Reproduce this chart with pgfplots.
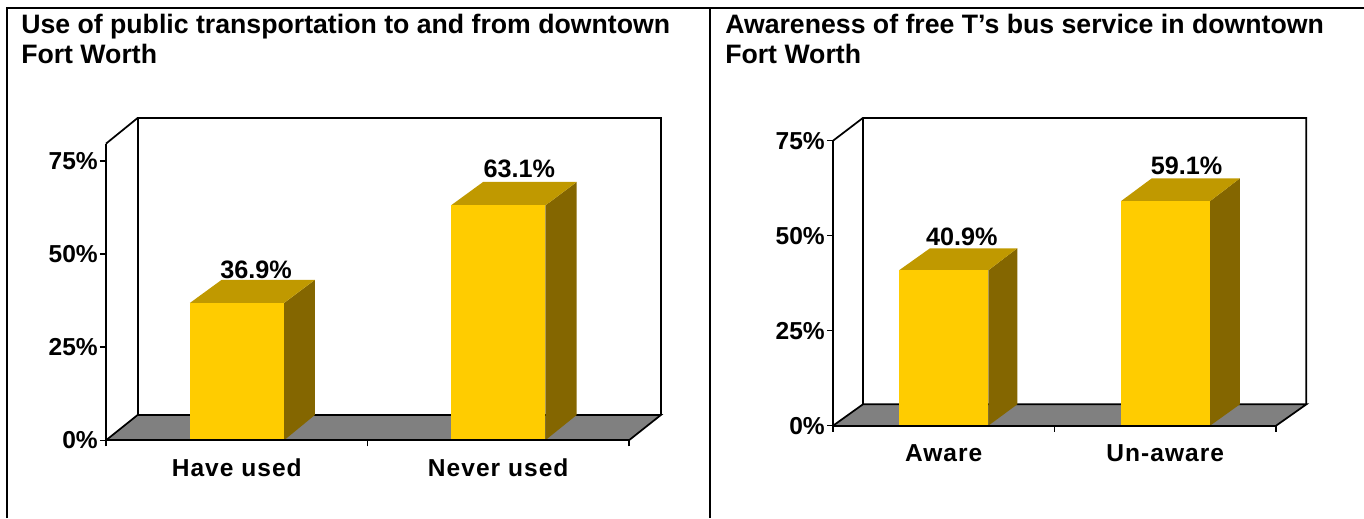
\documentclass[border=0pt]{standalone}
\usepackage{fontspec}
\setmainfont{Liberation Sans}
\newfontfamily\spaced{Liberation Sans}[LetterSpace=4.2]
\usepackage{pgfplots}
\pgfplotsset{compat=1.18}

% colours of the 3D bars
\definecolor{barfront}{HTML}{FFCC00}
\definecolor{bartop}{HTML}{C09900}
\definecolor{barside}{HTML}{846600}
\definecolor{floorgray}{HTML}{808080}

% 1px of the reference = 0.75pt
\newcommand{\ttl}{\bfseries\fontsize{20}{24}\selectfont}
\newcommand{\lbl}{\bfseries\fontsize{18.4}{22}\selectfont}
\newcommand{\vallbl}{\bfseries\fontsize{18.9}{22}\selectfont}

\pgfplotsset{
  panel/.style={
    scale only axis, anchor=south west, clip=false, axis on top,
    axis x line*=bottom, axis y line*=left,
    axis line style={line width=1.3pt, black},
    xmin=0, xmax=2, ymin=0,
    tick align=outside, major tick length=4.5pt,
    tick style={black, line width=1.1pt},
    xtick={0,1,2}, xticklabels={},
    extra x ticks={0.5,1.5},
    extra x tick style={
      major tick length=0pt,
      tick label style={font=\spaced\lbl, anchor=base, yshift=-27pt},
    },
    ytick={0,25,50,75}, yticklabels={0\%,25\%,50\%,75\%},
    y tick label style={font=\lbl, inner sep=0pt, xshift=-1.5pt},
  },
  wall/.style={black, line width=1.3pt},
  valuelabel/.style={
    draw=none, point meta=explicit,
    nodes near coords={\pgfmathprintnumber[fixed, precision=1, fixed zerofill, assume math mode=true]{\pgfplotspointmeta}\%},
    nodes near coords align={anchor=base},
    every node near coord/.append style={font=\vallbl, inner sep=0pt, yshift=0pt},
  },
}

\begin{document}
\begin{tikzpicture}[x=0.75pt, y=0.75pt]
\path[use as bounding box] (0,0) rectangle (1364,518);

% panel frame
\draw[black, line width=1.4pt] (7,0) -- (7,510.3) -- (1364,510.3);
\draw[black, line width=1.4pt] (710,0) -- (710,510.3);

% titles
\node[anchor=base west, inner sep=0pt] at (21,484.7) {\ttl Use of public transportation to and from downtown};
\node[anchor=base west, inner sep=0pt] at (21,454.7) {\ttl Fort Worth};
\node[anchor=base west, inner sep=0pt] at (725,484.7) {\ttl Awareness of free T’s bus service in downtown};
\node[anchor=base west, inner sep=0pt] at (725,454.7) {\ttl Fort Worth};

% left chart
\begin{axis}[panel, at={(79.5pt,58.3pt)}, width=392.25pt, height=222.45pt,
  ymax=79.7, extra x tick labels={Have used,Never used}]
\addplot[fill=floorgray, draw=none] coordinates {(0,0) (0.121,6.8) (2.122,6.8) (2,0)};
\addplot[wall] coordinates {(0,0) (0.121,6.8) (2.122,6.8) (2,0)};
\addplot[wall] coordinates {(0,79.7) (0.121,86.6) (2.122,86.6) (2.122,6.8)};
\addplot[wall] coordinates {(0.121,6.8) (0.121,86.6)};
% Have used
\addplot[fill=barside, draw=none] coordinates {(0.681,0) (0.799,6.8) (0.799,43.1) (0.681,36.9)};
\addplot[fill=bartop, draw=none] coordinates {(0.321,36.9) (0.442,43.1) (0.799,43.1) (0.681,36.9)};
\addplot[fill=barfront, draw=none] coordinates {(0.321,0) (0.681,0) (0.681,36.9) (0.321,36.9)};
% Never used
\addplot[fill=barside, draw=none] coordinates {(1.680,0) (1.800,6.8) (1.800,69.4) (1.680,63.1)};
\addplot[fill=bartop, draw=none] coordinates {(1.319,63.1) (1.442,69.4) (1.800,69.4) (1.680,63.1)};
\addplot[fill=barfront, draw=none] coordinates {(1.319,0) (1.680,0) (1.680,63.1) (1.319,63.1)};
% value labels, meta is the value
\addplot[valuelabel] coordinates {(0.574,43.6) [36.9] (1.581,70.5) [63.1]};
\end{axis}

% right chart
\begin{axis}[panel, at={(624.75pt,69.2pt)}, width=332.25pt, height=213.75pt,
  ymax=75, extra x tick labels={Aware,Un-aware}]
\addplot[fill=floorgray, draw=none] coordinates {(0,0) (0.135,5.63) (2.137,5.63) (2,0)};
\addplot[wall] coordinates {(0,0) (0.135,5.63) (2.137,5.63) (2,0)};
\addplot[wall] coordinates {(0,75) (0.135,81) (2.137,81) (2.137,5.63)};
\addplot[wall] coordinates {(0.135,5.63) (0.135,81)};
% Aware
\addplot[fill=barside, draw=none] coordinates {(0.701,0) (0.832,5.63) (0.832,46.7) (0.701,40.9)};
\addplot[fill=bartop, draw=none] coordinates {(0.298,40.9) (0.438,46.7) (0.832,46.7) (0.701,40.9)};
\addplot[fill=barfront, draw=none] coordinates {(0.298,0) (0.701,0) (0.701,40.9) (0.298,40.9)};
% Un-aware
\addplot[fill=barside, draw=none] coordinates {(1.702,0) (1.837,5.63) (1.837,65.1) (1.702,59.1)};
\addplot[fill=bartop, draw=none] coordinates {(1.300,59.1) (1.439,65.1) (1.837,65.1) (1.702,59.1)};
\addplot[fill=barfront, draw=none] coordinates {(1.300,0) (1.702,0) (1.702,59.1) (1.300,59.1)};
\addplot[valuelabel] coordinates {(0.582,47.3) [40.9] (1.596,66.2) [59.1]};
\end{axis}
\end{tikzpicture}
\end{document}
